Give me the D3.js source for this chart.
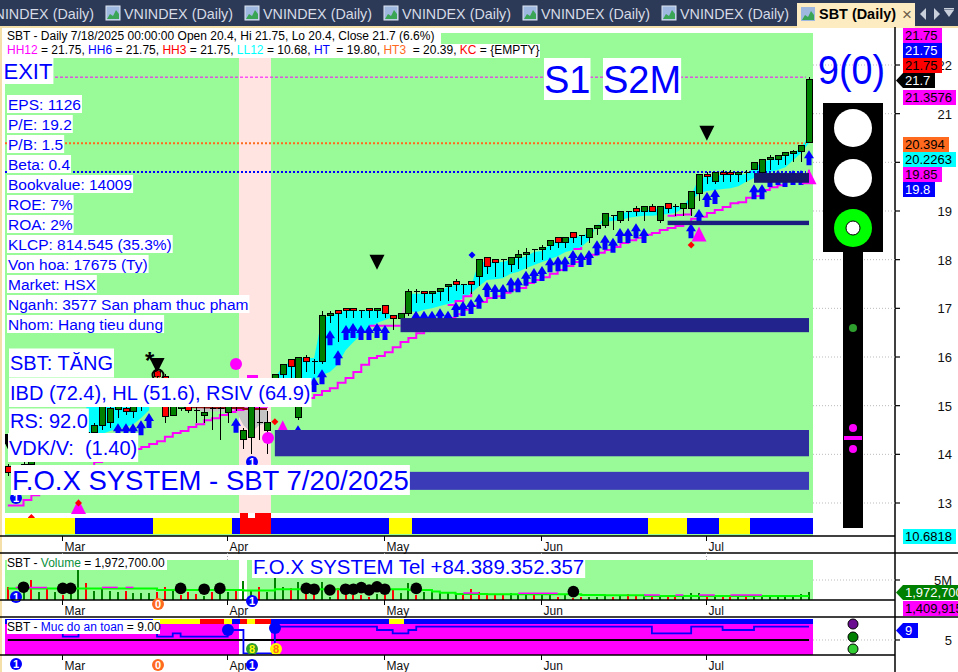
<!DOCTYPE html>
<html><head><meta charset="utf-8">
<script src="https://cdn.jsdelivr.net/npm/d3@7"></script>
<style>html,body{margin:0;padding:0;background:#fff;overflow:hidden}text{font-family:"Liberation Sans",Arial,sans-serif}</style>
</head><body><svg id="c" width="958" height="672"></svg>
<script>
// ---------- data ----------
const monthLabels=["Mar","Apr","May","Jun","Jul"];
const monthBars=[7,28,48,68,89];
const priceTicks=[22,21,20,19,18,17,16,15,14,13];
const opens=[13.75,13.55,13.7,13.8,13.95,14.05,14.1,14.15,14.2,14.25,
14.4,14.45,14.6,14.65,14.93,14.95,14.87,15,15.05,15.7,
15.6,14.8,14.95,15,14.9,14.8,14.95,14.95,14.85,15,
14.3,14.35,14.65,14.5,15.55,15.65,15.95,14.75,16,15.9,
15.9,16.85,16.95,17,17,16.95,17,16.95,17.05,16.85,
16.8,16.9,17.35,17.35,17.3,17.35,17.45,17.55,17.5,17.55,
17.65,18.05,18,18,17.9,18.05,18.1,18.2,18.2,18.3,
18.45,18.35,18.55,18.5,18.45,18.65,18.7,18.9,18.8,19,
19.05,19,19.1,18.8,19.15,19.1,19.05,19.05,19.35,19.75,
19.6,19.8,19.8,19.75,19.8,19.85,19.8,20.05,20.05,20.14,
20.18,20.22,20.4];
const highs=[13.8,13.75,13.85,14,14.1,14.15,14.2,14.25,14.3,14.45,
14.5,14.65,15.05,15,15,15,15,15.1,15.2,15.85,
15.65,15.05,15.05,15.05,15,15,15,15,15,15,
14.55,15.2,15,14.9,15.65,15.85,15.95,16,16.05,15.95,
16.95,16.95,16.95,17,17,16.95,17,17,17.05,16.85,
16.9,17.4,17.4,17.35,17.35,17.4,17.5,17.6,17.5,17.55,
18,18.05,18,18,18.05,18.2,18.25,18.2,18.3,18.4,
18.45,18.45,18.55,18.5,18.65,18.7,18.95,18.9,19,19,
19.1,19.1,19.15,19.1,19.15,19.15,19.15,19.4,19.75,19.8,
19.8,19.85,19.85,19.8,19.85,20,20.05,20.15,20.15,20.2,
20.25,20.34,21.75];
const lows=[13.55,13.4,13.6,13.7,13.85,13.95,14,14.05,14.1,14.15,
14.3,14.35,14.5,14.55,14.75,14.8,14.75,14.9,15,15.1,
14.65,14.8,14.9,14.85,14.65,14.65,14.5,14.3,14.65,14.9,
14.1,14,14.3,14,15.4,15.4,15.4,14.7,15.7,15.65,
15.85,16.7,16.3,16.8,16.8,16.8,16.8,16.8,16.8,16.55,
16.7,16.85,17.1,17.1,17.1,17.15,17.15,17.35,17.3,17.3,
17.45,17.7,17.65,17.65,17.75,17.8,17.8,17.95,18,18.2,
18.25,18.25,18.35,18.3,18.35,18.5,18.65,18.6,18.75,18.8,
18.9,18.8,19,18.75,18.95,18.9,18.9,18.9,19.2,19.55,
19.55,19.6,19.6,19.6,19.6,19.85,19.7,19.85,19.95,19.95,
20,20,20.4];
const closes=[13.62,13.7,13.8,13.95,14.05,14.1,14.15,14.2,14.25,14.4,
14.45,14.6,14.98,14.95,14.98,14.87,14.98,15.05,15.1,15.6,
14.78,15,15,14.9,14.9,14.85,14.95,14.95,15,15,
14.5,15.1,14.65,14.65,15.65,15.85,15.8,16,15.9,15.9,
16.85,16.9,16.9,16.95,16.95,16.95,16.95,17,16.9,16.8,
16.9,17.35,17.35,17.3,17.35,17.4,17.5,17.5,17.5,17.5,
18,17.85,17.95,18,18.05,18.1,18.15,18.2,18.25,18.4,
18.35,18.45,18.45,18.5,18.65,18.7,18.95,18.9,19,19,
19,19.1,19,19.1,19.05,19.1,19.15,19.4,19.75,19.7,
19.8,19.75,19.75,19.8,19.8,20,20.05,20.1,20.15,20.2,
20.23,20.34,21.7];
const cloudHi=[null,null,null,null,null,null,null,null,null,null,
15.07,15.07,15.07,15.07,15.07,15.07,15.07,15.07,15.07,null,
null,null,null,null,15,15,15,15,15,14.98,
14.98,14.98,14.98,14.98,15.57,15.81,15.9,15.98,15.98,15.98,
16.8,16.84,16.9,16.95,16.95,16.95,16.95,16.95,16.92,16.84,
16.84,17.3,17.3,17.3,17.3,17.34,17.44,17.48,17.48,17.48,
17.95,17.95,17.95,17.95,18,18.03,18.07,18.16,18.18,18.3,
18.4,18.4,18.49,18.47,18.57,18.65,18.9,18.86,18.96,18.98,
19,19.02,19.02,19.06,19.1,19.08,19.1,19.33,19.68,19.7,
19.72,19.74,19.74,19.74,19.76,19.88,20.01,20.05,20.09,20.13,
20.19,20.3,20.56];
const cloudLo=[null,null,null,null,null,null,null,null,null,null,
14.3,14.36,14.42,14.48,14.52,14.56,14.62,14.75,14.91,null,
null,null,null,null,14.9,14.88,14.88,14.88,14.88,14.9,
14.6,14.45,14.6,14.65,15.01,15.07,15.22,15.32,15.42,15.53,
15.63,15.69,15.84,16.14,16.31,16.45,16.6,16.7,16.76,16.82,
16.88,16.95,16.92,16.97,17,17.05,17.09,17.13,17.21,17.31,
17.46,17.58,17.6,17.62,17.71,17.75,17.83,17.89,17.95,18.01,
18.07,18.16,18.2,18.26,18.4,18.71,18.77,18.8,18.81,18.86,
18.88,18.9,18.9,18.92,18.94,18.96,19.06,19.19,19.37,19.41,
19.43,19.45,19.47,19.51,19.6,19.68,19.74,19.8,19.84,19.9,
20.05,20.19,20.4];
const cyanRanges=[[10,18],[34,50],[51,102]];
const grayRanges=[[24,33],[50,51]];
const trail=[12.95,12.95,13.06,13.16,13.27,13.35,13.43,13.51,13.6,13.68,
13.76,13.84,13.92,14,14.05,14.09,14.11,14.15,14.21,14.27,
14.36,14.44,14.48,14.56,14.62,14.7,14.74,14.81,14.87,14.91,
14.94,14.96,14.98,15,15.02,15.05,15.08,15.12,15.16,15.22,
15.3,15.36,15.47,15.57,15.69,15.84,15.98,16.02,16.1,16.2,
16.31,16.39,16.49,16.6,16.66,16.74,16.8,16.88,16.97,17.05,
17.13,17.21,17.25,17.32,17.38,17.42,17.52,17.58,17.64,17.71,
17.79,17.87,17.95,18.03,18.1,18.14,18.2,18.26,18.34,18.4,
18.45,18.51,18.55,18.61,18.65,18.69,18.77,18.84,18.88,18.96,
19.02,19.08,19.16,19.18,19.27,19.31,19.43,19.49,19.53,19.62,
19.68,19.75,19.85];
const upperIdx=[46,47,48,49,50,56,57,58,59,72,73,84,85,86,87];
const upperVal=[16.64,16.64,16.64,16.64,16.64,17.07,17.15,17.25,17.33,18.22,18.26,18.9,18.92,18.93,19.05];
const maroonIdx=[22,23,24,25,26,27,28,29,30,31,32,33];
const maroonVal=[14.98,14.97,14.97,14.96,14.95,14.95,14.95,14.95,14.93,14.93,14.93,14.93];
const arrowIdx=[14,15,16,17,18,29,37,39,40,41,42,43,44,45,46,47,48,52,53,54,55,56,57,58,59,60,61,62,63,64,65,66,67,68,69,70,71,72,73,74,75,76,77,78,79,80,81,87,88,89,90,95,96,97,98,99,100,101,102];
const arrowVal=[14.64,14.64,14.64,14.7,14.85,14.75,14.6,15.59,15.75,16.55,16.14,16.66,16.7,16.66,16.66,16.7,16.66,16.95,16.95,16.95,17,16.95,17.13,17.15,17.19,17.3,17.54,17.5,17.5,17.64,17.64,17.77,17.83,17.87,18.05,18.07,18.07,18.2,18.16,18.2,18.4,18.51,18.45,18.65,18.65,18.75,18.65,18.75,19.04,19.39,19.45,19.55,19.55,19.8,19.84,19.8,19.84,19.84,20.25];
const sellIdx=[0,19,47,89];
const sellVal=[14.42,15.98,18.1,20.75];
const buyIdx=[9,35,88,102];
const buyVal=[13.08,14.7,18.68,19.86];
const redDotIdx=[3,9,34,87];
const redDotVal=[12.7,13,14.67,18.3];
const zoneStart=[50,34,34,84,95];
const zoneLow=[16.51,13.96,13.27,18.71,19.58];
const zoneHigh=[16.8,14.5,13.64,18.8,19.78];
const stateBars=["y","y","y","y","y","y","y","y","y","b","b","b","b","b","b","b","b","b","b","y","y","y","y","y","y","y","y","y","y","b","r","r","r","r","b","b","b","b","b","b","b","b","b","b","b","b","b","b","b","y","y","y","b","b","b","b","b","b","b","b","b","b","b","b","b","b","b","b","b","b","b","b","b","b","b","b","b","b","b","b","b","b","y","y","y","y","y","b","b","b","b","y","y","y","y","b","b","b","b","b","b","b","b"];
const volume=[3.2,1.7,2.5,5,2.1,2.7,2.1,1.3,2.9,7.5,4.2,2.3,2.7,2.3,2.1,2.3,1.8,1.8,1.8,2.1,3.2,2.7,1.3,2.1,1.5,1,2.1,1.7,2.1,2.5,4.8,2.5,3.3,2.1,5.4,3.3,2.9,4.4,2.1,2.5,4.4,0.8,2.9,1.7,1.3,1.3,0.8,1.5,1.3,2.5,1.8,4.2,1.3,2.1,2.1,1.7,1.7,1.3,1.3,2.8,2.1,1.3,1.3,1.3,1.7,1.5,1.3,1.7,1.3,1.5,0.8,1.3,0.6,0.8,0.8,0.8,1.3,0.8,1.1,1.5,1.1,1,1.25,1,1,1,1.25,1.67,1.67,1,1.08,1,0.83,1.25,1.25,1.08,1.25,1.25,1,1,1.25,1.4,1.97];
const volumeDir=["d","u","u","d","u","d","u","d","u","u","d","u","u","u","u","d","u","u","u","d","d","u","d","d","d","u","d","u","u","d","u","u","d","u","u","u","d","u","d","d","u","u","d","d","d","d","d","u","d","d","u","u","d","u","u","u","u","u","d","d","d","d","d","d","u","u","u","d","u","u","d","u","d","d","u","u","u","d","u","d","d","u","d","u","d","d","u","u","u","d","u","d","d","u","d","u","u","u","u","u","u","u","u"];
const volumeMA=[2.9,2.9,2.9,2.9,2.9,2.9,2.9,2.9,2.9,2.9,2.9,2.9,2.9,2.9,2.9,2.9,2.9,2.9,2.9,2.5,2.5,2.5,2.5,2.5,2.5,2.5,2.5,2.5,2.5,2.5,2.4,2.4,2.4,2.4,2.7,2.7,2.7,2.7,2.7,2.7,2.7,2.7,2.7,2.7,2.7,2.7,2.7,2.7,2.7,2.7,2.7,2.5,2.5,2.5,2.1,1.8,1.8,1.5,1.5,1.5,1.5,1.45,1.45,1.45,1.45,1.45,1.45,1.45,1.45,1.45,1.45,1.45,1.45,1.25,1.25,1.25,1.2,1.2,1.2,1.17,1.17,1,1,1,1,1,1,1,1,1,1,1,1,1,1,1,1,1,1,1,1,1,1];
const volumeMAHot=[[1,5],[12,14],[15,16],[58,60],[65,70],[81,83],[85,86],[88,90],[92,96]];
const volumeDotIdx=[2,7,8,22,25,27,38,39,41,43,44,45,46,47,48,52,72];
const volumeDotVal=[3.2,2.9,2.9,2.9,2.7,2.9,2.9,2.7,2.5,2.7,2.7,3.1,2.5,3.3,2.7,2.9,2.1];
const safety=[9,9,9,9,9,9,9,6,6,9,9,9,9,9,9,9,9,9,9,6,6,7,6,6,6,6,6,6,8,8,1,1,1,1,9,9,9,9,9,9,9,9,9,9,9,9,9,8,8,7,7,8,9,9,9,9,9,9,9,9,9,9,9,9,9,9,9,9,9,9,9,9,9,9,9,9,9,9,9,9,9,9,7,7,7,7,7,9,9,9,9,8,8,8,8,9,9,9,9,9,9,9,9];
const safetyBand=["b","b","b","b","b","b","b","b","b","b","b","b","b","b","b","b","b","b","b","y","y","y","y","y","y","r","r","r","y","b","r","y","r","r","b","b","b","b","b","b","b","b","b","b","b","b","b","b","b","y","y","b","b"];
const fundLabels=["EPS: 1126","P/E: 19.2","P/B: 1.5","Beta: 0.4","Bookvalue: 14009","ROE: 7%","ROA: 2%","KLCP: 814.545 (35.3%)","Von hoa: 17675 (Ty)","Market: HSX","Nganh: 3577 San pham thuc pham","Nhom: Hang tieu dung"];
const tabNames=["VNINDEX (Daily)","VNINDEX (Daily)","VNINDEX (Daily)","VNINDEX (Daily)","VNINDEX (Daily)","VNINDEX (Daily)"];
const priceTags=["21.75","21.75","21.75","21.7","21.3576","20.394","20.2263","19.85","19.8","10.6818"];

// ---------- scales ----------
const BLUE="#0000ff",MAG="#ff00ff",GREEN="#008000",RED="#ff0000",CYAN="#00ffff",PALE="#98fb98",ORANGE="#ff6a1f";
const svg=d3.select("#c");
const bars=d3.range(opens.length);
const x=d3.scaleLinear().domain([0,102]).range([7.8,809]);
const y=d3.scaleLinear().domain([13,22]).range([503,65]);
const yV=d3.scaleLinear().domain([0,5]).range([600,580]);
const yS=d3.scaleLinear().domain([0,9]).range([656.6,626.7]);
const step=x(1)-x(0);
const rect=(g,a,b,w,h,f)=>g.append("rect").attr("x",a).attr("y",b).attr("width",w).attr("height",h).attr("fill",f);
const txt=(g,s,a,b,size,fill,anchor)=>g.append("text").attr("x",a).attr("y",b).attr("font-size",size).attr("fill",fill||"#000").attr("text-anchor",anchor||"start").attr("xml:space","preserve").text(s);

// ---------- window chrome ----------
rect(svg,0,0,958,26,"#2c3a57");
rect(svg,0,26,958,2,"#f5dfa8");
rect(svg,0,26,2,646,"#f5dfa8");
const tabs=svg.append("g");
tabNames.forEach((n,i)=>{
  const tx=-15+139*i;
  if(i>0){
    rect(tabs,tx-18,6,14,14,"#9fb8df").attr("stroke","#dfe6f2");
    tabs.append("path").attr("d",d3.line()([[tx-17,19],[tx-14,14],[tx-11,16],[tx-8,10],[tx-5,14],[tx-5,19]])).attr("fill","#3aa655");
  }
  txt(tabs,n,tx,19,15,"#d6dbe6").attr("textLength",109).attr("lengthAdjust","spacingAndGlyphs");
});
rect(svg,797,3,118,25,"#fdebc1");
rect(svg,801,7,14,14,"#9fb8df");
svg.append("path").attr("d",d3.line()([[802,20],[805,15],[808,17],[811,11],[814,15],[814,20]])).attr("fill","#3aa655");
txt(svg,"SBT (Daily)",819,19,15,"#000").attr("font-weight","bold").attr("textLength",77).attr("lengthAdjust","spacingAndGlyphs");
txt(svg,"×",902,20,17,"#6d5d48");
svg.append("path").attr("d","M926 8L920 14L926 20Z").attr("fill","#c9cfdb");
svg.append("path").attr("d","M934 8L940 14L934 20Z").attr("fill","#c9cfdb");
svg.append("path").attr("d","M944 10H954L949 17Z").attr("fill","#c9cfdb");
rect(svg,944,8,10,1.5,"#c9cfdb");

// ---------- main pane ----------
const plot=svg.append("g");
rect(plot,5,33,808,503,PALE);
rect(plot,239,33,32,480,"#ffe4e1");
rect(plot,5,513,808,5,"#fff");

const areaC=r=>d3.area().x(i=>x(i)).y0(i=>y(cloudLo[i])).y1(i=>y(cloudHi[i]))(d3.range(r[0],r[1]+1));
svg.append("clipPath").attr("id","mc").append("rect").attr("x",5).attr("y",33).attr("width",812).attr("height",503);
const g=plot.append("g").attr("clip-path","url(#mc)");
cyanRanges.forEach(r=>g.append("path").attr("d",areaC(r)).attr("fill",CYAN));
grayRanges.forEach(r=>g.append("path").attr("d",areaC(r)).attr("fill","#c4c4c4"));

// reference lines
const hRef=(v,a,col,w,dash)=>g.append("line").attr("x1",a).attr("x2",806).attr("y1",y(v)).attr("y2",y(v)).attr("stroke",col).attr("stroke-width",w).attr("stroke-dasharray",dash);
hRef(21.75,5,MAG,1,"3 2");
hRef(20.394,5,ORANGE,2,"2 2");
hRef(19.8,5,BLUE,2,"2 2");

// trail lines
const stepLine=d3.line().curve(d3.curveStepAfter);
g.append("path").attr("d",stepLine(bars.map(i=>[x(i),y(trail[i])]))).attr("fill","none").attr("stroke",MAG).attr("stroke-width",2);
const upperSeries=bars.map(i=>{const k=upperIdx.indexOf(i);return k<0?null:upperVal[k];});
g.append("path").attr("d",d3.line().defined(i=>upperSeries[i]!=null).curve(d3.curveStepAfter).x(i=>x(i)).y(i=>y(upperSeries[i]))(bars)).attr("fill","none").attr("stroke",MAG).attr("stroke-width",2);
g.append("path").attr("d",d3.line().curve(d3.curveStepAfter).x((d,k)=>x(maroonIdx[k])).y(d=>y(d))(maroonVal)).attr("fill","none").attr("stroke","#8b1010").attr("stroke-width",2);

// blue arrows (under candles)
const arrows=g.append("g");
arrowIdx.forEach((i,k)=>{
  const a=Math.round(x(i)),b=y(arrowVal[k]);
  arrows.append("path").attr("d",`M${a} ${b}L${a+5} ${b+8}H${a+2.5}V${b+15}H${a-2.5}V${b+8}H${a-5}Z`).attr("fill",BLUE);
});

// candles
const candles=g.append("g").attr("shape-rendering","crispEdges");
bars.forEach(i=>{
  const a=Math.round(x(i)),o=y(opens[i]),c=y(closes[i]);
  candles.append("line").attr("x1",a+.5).attr("x2",a+.5).attr("y1",y(highs[i])).attr("y2",y(lows[i])).attr("stroke","#000");
  if(opens[i]===closes[i]){
    candles.append("line").attr("x1",a-2.5).attr("x2",a+3.5).attr("y1",o).attr("y2",o).attr("stroke","#000");
  } else {
    candles.append("rect").attr("x",a-2.5).attr("y",Math.min(o,c)).attr("width",6).attr("height",Math.max(2,Math.abs(o-c)))
      .attr("fill",closes[i]>opens[i]?GREEN:RED).attr("stroke","#000");
  }
});

// buy / sell triangles and dots
buyIdx.forEach((i,k)=>{const a=x(i),b=y(buyVal[k]);g.append("path").attr("d",`M${a} ${b}L${a+7.5} ${b+15}H${a-7.5}Z`).attr("fill",MAG);});
redDotIdx.forEach((i,k)=>{const a=x(i),b=y(redDotVal[k]);g.append("path").attr("d",`M${a} ${b-3.5}L${a+3.5} ${b}L${a} ${b+3.5}L${a-3.5} ${b}Z`).attr("fill",RED);});

// zones (drawn over candles)
const zoneCols=["#23238e","#2e2e9e","#3b3bb8","#1b1b80","#15156a"];
zoneStart.forEach((s,k)=>rect(g,x(s),y(zoneHigh[k]),x(102)-x(s),y(zoneLow[k])-y(zoneHigh[k]),zoneCols[k]));

sellIdx.forEach((i,k)=>{const a=x(i),b=y(sellVal[k]);g.append("path").attr("d",`M${a-7.5} ${b}H${a+7.5}L${a} ${b+15}Z`).attr("fill","#000");});
txt(g,"*",145,369,24,"#000").attr("font-weight","bold");

// misc markers
g.append("circle").attr("cx",236).attr("cy",364).attr("r",6).attr("fill",MAG);
g.append("circle").attr("cx",268).attr("cy",438).attr("r",6).attr("fill",MAG);
rect(g,247,375,11,3,MAG);
g.append("path").attr("d","M472 251.5L475.5 255L472 258.5L468.5 255Z").attr("fill",BLUE);
const badge=(par,a,b,fill,ink,s,stroke)=>{
  par.append("circle").attr("cx",a).attr("cy",b).attr("r",6).attr("fill",fill).attr("stroke",stroke||"none");
  par.append("text").attr("x",a).attr("y",b+4).attr("font-size",11).attr("font-weight","bold").attr("fill",ink).attr("text-anchor","middle").text(s);
};
g.append("circle").attr("cx",158).attr("cy",375).attr("r",5.5).attr("fill","none").attr("stroke","#000").attr("stroke-width",2);
txt(g,"0",155,379,10,RED);
badge(g,16,498,BLUE,"#fff","1");
badge(g,252,462,BLUE,"#fff","1");

// bottom state bar
const stateCol={y:"#ffff00",b:BLUE,r:RED};
const sb=plot.append("g").attr("shape-rendering","crispEdges");
bars.forEach(i=>rect(sb,Math.max(5,x(i)-step/2),518,step+.5,16,stateCol[stateBars[i]]));
[30,32,33].forEach(i=>rect(sb,x(i)-step/2,513,step+.5,5,RED));
rect(plot,5,534,808,2,PALE);

// panes / axis frames
const rule=(a,b,c,w)=>svg.append("line").attr("x1",a).attr("x2",b).attr("y1",c).attr("y2",c).attr("stroke","#000").attr("stroke-width",w||1.5);
rect(svg,5,536,890,17,"#fff");
rect(svg,5,553,808,47,"#fff");
rect(svg,5,560,808,40,PALE);
rect(svg,239,560,8,40,"#fff");
rect(svg,5,600,890,17,"#fff");

// volume pane
const vp=svg.append("g");
const vb=vp.append("g").attr("shape-rendering","crispEdges");
bars.forEach(i=>{
  const a=Math.round(x(i));
  rect(vb,a-1,yV(volume[i]),2,yV(0)-yV(volume[i]),volumeDir[i]==="u"?GREEN:RED);
});
vp.append("path").attr("d",d3.line().curve(d3.curveStepAfter).x(i=>x(i)).y(i=>yV(volumeMA[i]))(bars)).attr("fill","none").attr("stroke","#00ff00").attr("stroke-width",2);
volumeMAHot.forEach(r=>vp.append("path").attr("d",d3.line().curve(d3.curveStepAfter).x(i=>x(i)).y(i=>yV(volumeMA[i])-1)(d3.range(r[0],r[1]+1))).attr("fill","none").attr("stroke",MAG).attr("stroke-width",1.5));
volumeDotIdx.forEach((i,k)=>vp.append("circle").attr("cx",x(i)).attr("cy",yV(volumeDotVal[k])).attr("r",5.8).attr("fill","#000"));
badge(vp,16,597,BLUE,"#fff","1");

// safety pane
const sp=svg.append("g");
rect(sp,5,619,808,36,MAG);
rect(sp,239,619,32,36,"#fff");
const bandCol={y:"#ffff00",b:BLUE,r:RED};
const sbb=sp.append("g").attr("shape-rendering","crispEdges");
bars.forEach(i=>{const k=safetyBand[i]||"b";rect(sbb,Math.max(5,x(i)-step/2),619,step+.5,5,bandCol[k]);});
sp.append("line").attr("x1",x(0)).attr("x2",x(102)).attr("y1",yS(5)).attr("y2",yS(5)).attr("stroke","#000").attr("stroke-width",2);
sp.append("path").attr("d",d3.line().curve(d3.curveStepAfter).x(i=>x(i)).y(i=>yS(safety[i]))(bars)).attr("fill","none").attr("stroke",BLUE).attr("stroke-width",1.8);
sp.append("circle").attr("cx",228).attr("cy",yS(8)).attr("r",6).attr("fill",BLUE);
sp.append("circle").attr("cx",275).attr("cy",628).attr("r",6).attr("fill",BLUE);
badge(sp,252,649,"#2e9e2e","#ffff00","8");
badge(sp,276,649,"#ffff00","#ff6a1f","8");

// frame lines
rule(0,895,536);rule(0,958,553);rule(0,895,600);rule(0,958,617);rule(0,895,655);
svg.append("line").attr("x1",895).attr("x2",895).attr("y1",27).attr("y2",672).attr("stroke","#000").attr("stroke-width",1.5);

// month axes
[536,600,655].forEach(base=>{
  monthBars.forEach((i,k)=>{
    const a=Math.round(x(i))-0.5;
    svg.append("line").attr("x1",a).attr("x2",a).attr("y1",base).attr("y2",base+5).attr("stroke","#000");
    txt(svg,monthLabels[k],a+2,base+15,12,"#111");
  });
});
monthBars.forEach(i=>svg.append("line").attr("x1",Math.round(x(i))-.5).attr("x2",Math.round(x(i))-.5).attr("y1",553).attr("y2",560).attr("stroke","#aaa").attr("stroke-dasharray","1 2"));
badge(svg,16,664,BLUE,"#fff","1");
badge(svg,252,665,BLUE,"#fff","1");
badge(svg,158,604,ORANGE,"#fff","0");
badge(svg,158,665,ORANGE,"#fff","0");
badge(svg,252,601,BLUE,"#fff","1");

// right axes
const gridTick=(yy,lab,size)=>{
  svg.append("line").attr("x1",813).attr("x2",895).attr("y1",yy).attr("y2",yy).attr("stroke","#bbb").attr("stroke-dasharray","1 2");
  svg.append("line").attr("x1",895).attr("x2",900).attr("y1",yy).attr("y2",yy).attr("stroke","#000").attr("stroke-width",1.2);
  txt(svg,lab,952,yy+5,size||13,"#111","end");
};
priceTicks.forEach(t=>gridTick(y(t),String(t)));
gridTick(yV(5),"5M");
gridTick(yS(5),"5");

// value tags
const tag=(s,b,fill,ink,w,arrow)=>{
  rect(svg,903,b,w,15,fill);
  if(arrow) svg.append("path").attr("d",`M896 ${b+7.5}L903 ${b}V${b+15}Z`).attr("fill",fill);
  txt(svg,s,905,b+12,13,ink);
};
tag(priceTags[0],28,MAG,"#000",39);
tag(priceTags[1],43,BLUE,"#fff",39);
tag(priceTags[2],58,RED,"#000",39);
tag(priceTags[3],73,"#000","#fff",32,true);
tag(priceTags[4],90,MAG,"#000",53);
tag(priceTags[5],137,ORANGE,"#000",46);
tag(priceTags[6],152,CYAN,"#000",53);
tag(priceTags[7],167,MAG,"#000",39);
tag(priceTags[8],182,BLUE,"#fff",32);
tag(priceTags[9],529,CYAN,"#000",53);
tag("1,972,700",585,GREEN,"#fff",55,true);
tag("1,409,915",601,MAG,"#000",55);
tag("9",623,BLUE,"#fff",15,true);

// traffic light
const light=svg.append("g");
rect(light,823,103,60,149,"#000");
rect(light,843,252,20,276,"#000");
light.append("circle").attr("cx",853).attr("cy",128).attr("r",19).attr("fill","#fff");
light.append("circle").attr("cx",853).attr("cy",178).attr("r",19).attr("fill","#fff");
light.append("circle").attr("cx",853).attr("cy",228).attr("r",19).attr("fill","#00ff00");
light.append("circle").attr("cx",853).attr("cy",228).attr("r",7).attr("fill","#fff").attr("stroke","#000");
light.append("circle").attr("cx",853).attr("cy",328).attr("r",4).attr("fill","#2e9e2e");
light.append("circle").attr("cx",853).attr("cy",428).attr("r",4).attr("fill",MAG);
light.append("circle").attr("cx",853).attr("cy",449).attr("r",4).attr("fill",MAG);
rect(light,844,436,18,4,MAG);
[[624,"#6a0d91"],[637,GREEN],[649,"#32cd32"]].forEach(d=>svg.append("circle").attr("cx",853).attr("cy",d[0]).attr("r",5).attr("fill",d[1]).attr("stroke","#000"));
txt(svg,"9(0)",818,84,40,"#0000ff").attr("textLength",67).attr("lengthAdjust","spacingAndGlyphs");

// labels with white boxes
const boxed=(s,a,cy,size,h,pad)=>{
  const gg=svg.append("g");
  const r=gg.append("rect").attr("fill","#fff");
  const t=txt(gg,s,a,cy+size*0.36,size,BLUE);
  const w=t.node().getComputedTextLength();
  const p=pad==null?1:pad;
  r.attr("x",a-p).attr("y",cy-h/2).attr("width",w+2*p).attr("height",h);
  return gg;
};
boxed("EXIT",3.5,71,22,26,1);
fundLabels.forEach((s,i)=>boxed(s,8,104+20*i,15.5,18));
boxed("S1",544,79,38,42,0);
boxed("S2M",603,79,38,42,0);
boxed("SBT: TĂNG",10,363,20,29);
boxed("IBD (72.4), HL (51.6), RSIV (64.9)",10,392.5,20,29);
boxed("RS: 92.0",10,421,20,25);
boxed("VDK/V:  (1.40)",9,447.5,20,29);
boxed("F.O.X SYSTEM - SBT 7/20/2025",12,480,27.5,30);
boxed("F.O.X SYSTEM Tel +84.389.352.357",253,567,20.4,22);

// header legend
rect(svg,5,28,436,16,"#fff");
rect(svg,5,44,535,14,"#fff");
txt(svg,"SBT - Daily 7/18/2025 00:00:00 Open 20.4, Hi 21.75, Lo 20.4, Close 21.7 (6.6%)",7,40,12,"#000");
const leg=txt(svg,"",7,54,12,"#000");
[["HH12",MAG],[" = 21.75, ","#000"],["HH6",BLUE],[" = 21.75, ","#000"],["HH3",RED],[" = 21.75, ","#000"],["LL12",CYAN],[" = 10.68, ","#000"],["HT",BLUE],["  = 19.80, ","#000"],["HT3",ORANGE],["  = 20.39, ","#000"],["KC",RED],[" = {EMPTY}","#000"]]
 .forEach(p=>leg.append("tspan").attr("fill",p[1]).attr("xml:space","preserve").text(p[0]));
// pane legends
rect(svg,7,556,160,14,"#fff");
const vl=txt(svg,"",7,567,12,"#000");
[["SBT - ","#000"],["Volume","#0a8f3c"],[" = 1,972,700.00","#000"]].forEach(p=>vl.append("tspan").attr("fill",p[1]).text(p[0]));
rect(svg,7,620,153,14,"#fff");
const sl=txt(svg,"",7,631,12,"#000");
[["SBT - ","#000"],["Muc do an toan",BLUE],[" = 9.00","#000"]].forEach(p=>sl.append("tspan").attr("fill",p[1]).text(p[0]));
</script></body></html>
